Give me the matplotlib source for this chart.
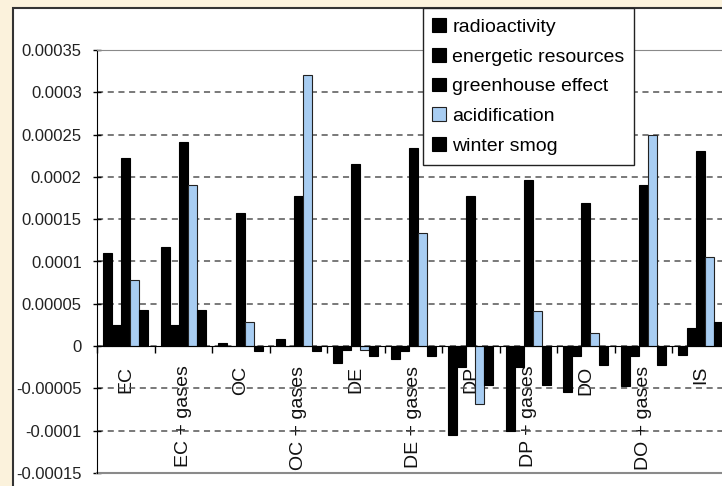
import numpy as np
import matplotlib
matplotlib.use("Agg")
import matplotlib.pyplot as plt
from matplotlib.patches import Rectangle
from matplotlib.ticker import FixedLocator

plt.rcParams['font.family'] = ['Liberation Sans', 'DejaVu Sans']

# данные
categories = ['EC', 'EC + gases', 'OC', 'OC + gases', 'DE', 'DE + gases',
              'DP', 'DP + gases', 'DO', 'DO + gases', 'IS']
series_names = ['radioactivity', 'energetic resources', 'greenhouse effect',
                'acidification', 'winter smog']
radioactivity = [0.00011, 0.000117, 0.000004, 0.000008, -0.00002, -0.000015,
                 -0.000105, -0.0001, -0.000054, -0.000047, -0.00001]
energetic = [0.000025, 0.000025, 0.0, 0.0, -0.000005, -0.000006,
             -0.000025, -0.000025, -0.000012, -0.000012, 0.000021]
greenhouse = [0.000222, 0.000241, 0.000157, 0.000177, 0.000215, 0.000234,
              0.000177, 0.000196, 0.000169, 0.00019, 0.000231]
acidification = [0.000078, 0.00019, 0.000029, 0.00032, -0.000005, 0.000134,
                 -0.000069, 0.000041, 0.000015, 0.00025, 0.000105]
winter_smog = [0.000043, 0.000043, -0.000006, -0.000006, -0.000012, -0.000012,
               -0.000046, -0.000046, -0.000022, -0.000022, 0.000029]
y_ticks = [0.00035, 0.0003, 0.00025, 0.0002, 0.00015, 0.0001, 0.00005,
           0, -0.00005, -0.0001, -0.00015]
y_labels = ['0.00035', '0.0003', '0.00025', '0.0002', '0.00015', '0.0001',
            '0.00005', '0', '-0.00005', '-0.0001', '-0.00015']

series = [radioactivity, energetic, greenhouse, acidification, winter_smog]
colors = ['black', 'black', 'black', '#A8CDF2', 'black']

W, H = 722, 486
fig = plt.figure(figsize=(W / 100, H / 100), dpi=100, facecolor='#FBF2DC')

# рамка области диаграммы
fig.add_artist(Rectangle((13 / W, -0.1), 1.2, 1 - 8 / H + 0.1,
                         transform=fig.transFigure, facecolor='white',
                         edgecolor='#333333', lw=1.5, zorder=-1))

ax = fig.add_axes([97 / W, 1 - 473 / H, (729.5 - 97) / W, (473 - 50) / H])
ax.set_facecolor('white')
ax.set_axisbelow(True)

x = np.arange(len(categories))
w = 0.155
for i, (vals, c) in enumerate(zip(series, colors)):
    ec = '#222222' if c != 'black' else 'black'
    ax.bar(x + (i - 2) * w, vals, w, color=c, edgecolor=ec, lw=0.8,
           label=series_names[i])

ax.set_xlim(-0.5, len(categories) - 0.5)
ax.set_ylim(-0.00015, 0.00035)

ax.set_yticks(y_ticks)
ax.set_yticklabels(y_labels, fontsize=12, color='#222222')
ax.tick_params(axis='y', direction='inout', length=6, width=1, pad=8,
               color='black')
ax.yaxis.grid(True, color='#555555', lw=1.1, linestyle=(0, (4, 3)))

ax.spines['bottom'].set_position(('data', 0))
ax.spines['bottom'].set_color('black')
ax.spines['left'].set_color('black')
for s in ['top', 'right']:
    ax.spines[s].set_color('#8a8a8a')
ax.axhline(-0.00015, color='#8a8a8a', lw=1.5, clip_on=False)

ax.set_xticks(x)
ax.set_xticklabels(categories, rotation=90, fontsize=14, color='#111111')
ax.tick_params(axis='x', which='major', length=0, pad=14)
ax.xaxis.set_minor_locator(FixedLocator(np.arange(-0.5, len(categories), 1)))
ax.tick_params(axis='x', which='minor', direction='out', length=5, width=1,
               color='black')

leg = fig.legend(loc='upper left', bbox_to_anchor=(422.7 / W, 1 - 8.3 / H),
                 bbox_transform=fig.transFigure, fontsize=14, frameon=True,
                 fancybox=False, edgecolor='#222222', framealpha=1,
                 borderaxespad=0, borderpad=0.5, handlelength=0.72,
                 handleheight=0.72, handletextpad=0.3, labelspacing=0.62)
leg.get_frame().set_linewidth(1.0)

fig.savefig('out.png', dpi=100, facecolor=fig.get_facecolor())
